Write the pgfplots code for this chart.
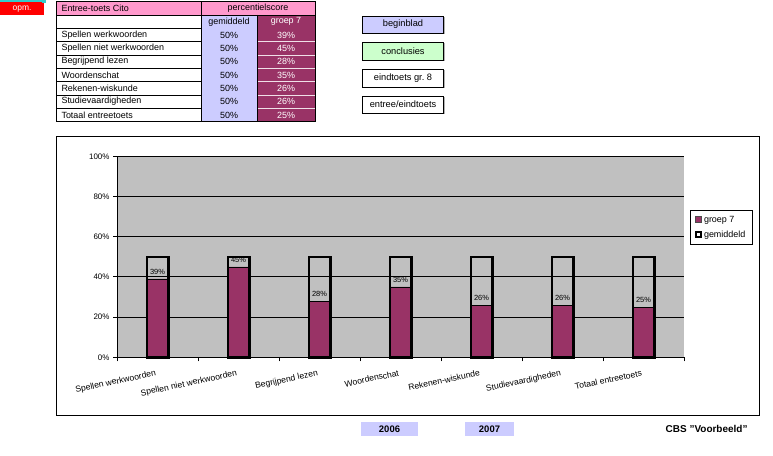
\documentclass[border=0pt]{standalone}
\usepackage{pgfplots}
\pgfplotsset{compat=1.18}
\usepackage{fontspec}
\setmainfont{Liberation Sans}
\definecolor{maroon}{HTML}{993366}
\definecolor{lav}{HTML}{CCCCFF}
\definecolor{pinkh}{HTML}{FF99CC}
\definecolor{mint}{HTML}{CCFFCC}
\definecolor{plotgray}{HTML}{C0C0C0}
\definecolor{tealx}{HTML}{33CCCC}
\newcommand{\fs}[1]{\fontsize{#1}{#1}\selectfont}
\newcommand{\btn}[4]{%
  \fill[gray!60] (364,456-#2-1.2) rectangle (444.5,456-#1-1.2);
  \draw[black,fill=#3,line width=0.7bp] (362.7,456-#2) rectangle (443.3,456-#1);
  \node[font=\fs{9.3}] at (403,456-#1/2-#2/2) {#4};}
\begin{document}
\begin{tikzpicture}[x=1bp,y=1bp]
\path[use as bounding box] (0,0) rectangle (773,456);
% opm. box
\fill[red] (0,456-15) rectangle (44,456-2);
\draw[tealx, line width=1.5bp] (0,456-1) -- (44,456-1);
\fill[tealx] (42,456-3.5) rectangle (46,456-0);
\node[white,font=\fs{8.5}] at (22,456-8.8) {opm.};
% table fills
\fill[pinkh] (56,456-15) rectangle (315,456-1.5);
\fill[lav] (201,456-121.67) rectangle (257,456-15);
\fill[maroon] (257,456-121.67) rectangle (315,456-15);
% table lines
\foreach \r in {28.33,41.67,55,68.33,81.67,95,108.33} {
  \draw[black,line width=0.6bp] (56,456-\r) -- (201,456-\r);
}
\foreach \r in {41.67,55,68.33,81.67,95,108.33} {
  \draw[white!85!maroon,line width=0.6bp] (257,456-\r) -- (315,456-\r);
}
\draw[black,line width=0.6bp] (56,456-15) -- (315,456-15);
\draw[black,line width=0.6bp] (201,456-1.5) -- (201,456-121.67);
\draw[black,line width=0.6bp] (257,456-15) -- (257,456-121.67);
\draw[black,line width=0.9bp] (56,456-1.5) rectangle (315,456-121.67);
% table text
\node[anchor=west,font=\fs{9}] at (58,456-8.3) {Entree-toets Cito};
\node[font=\fs{9}] at (258,456-8.3) {percentielscore};
\node[font=\fs{9}] at (229,456-21.7) {gemiddeld};
\node[font=\fs{9},white] at (286,456-21.7) {groep 7};
\foreach \n/\v [count=\i from 0] in {Spellen werkwoorden/39, Spellen niet werkwoorden/45, Begrijpend lezen/28, Woordenschat/35, Rekenen-wiskunde/26, Studievaardigheden/26, Totaal entreetoets/25} {
  \node[anchor=west,font=\fs{9}] at (58,456-35-13.333*\i) {\n};
  \node[font=\fs{9}] at (229,456-35-13.333*\i) {50\%};
  \node[font=\fs{9},white] at (286,456-35-13.333*\i) {\v\%};
}
% buttons
\btn{16}{33}{lav}{beginblad}
\btn{42}{60}{mint}{conclusies}
\btn{69}{87}{white}{eindtoets gr.\ 8}
\btn{96}{113}{white}{entree/eindtoets}
% bottom labels
\fill[lav] (361,456-436) rectangle (418,456-422);
\node[font=\fs{9.5}\bfseries] at (389.5,456-429) {2006};
\fill[lav] (465,456-436) rectangle (514,456-422);
\node[font=\fs{9.5}\bfseries] at (489.5,456-429) {2007};
\node[anchor=east,font=\fs{10}\bfseries] at (751,456-429) {CBS "Voorbeeld"};
% chart frame
\draw[black,fill=white,line width=0.8bp] (56,456-415) rectangle (759,456-136);
\coordinate (axO) at (117,98.7);
\begin{axis}[
  at={(axO)}, anchor=south west,
  scale only axis, width=567bp, height=201bp,
  xmin=-0.5, xmax=6.5, ymin=0, ymax=100,
  axis background/.style={fill=plotgray},
  axis x line=bottom, axis y line=left,
  axis line style={-, black, line width=0.8bp},
  ytick={0,20,40,60,80,100},
  yticklabel={\pgfmathprintnumber{\tick}\%},
  ymajorgrids, grid style={black, line width=0.8bp},
  xtick={-0.5,0.5,1.5,2.5,3.5,4.5,5.5,6.5}, xticklabels={},
  tick align=outside, major tick length=4bp,
  tick style={black, line width=0.8bp},
  extra x ticks={0,1,2,3,4,5,6},
  extra x tick labels={Spellen werkwoorden, Spellen niet werkwoorden, Begrijpend lezen, Woordenschat, Rekenen-wiskunde, Studievaardigheden, Totaal entreetoets},
  extra x tick style={major tick length=0pt, tick label style={rotate=12, anchor=north east, yshift=-8bp, xshift=-1.5bp, font=\fs{8.6}}},
  yticklabel style={font=\fs{8}},
  /pgf/number format/assume math mode=true,
  ybar, bar width=21.5bp, bar shift=0pt,
  legend style={at={(1.0106,0.646)}, anchor=west, draw=black, line width=0.8bp, font=\fs{9}, inner xsep=5bp, inner ysep=3bp, row sep=3.5bp, cells={anchor=west}},
  clip=false,
]
\addplot[fill=maroon, draw=black, line width=0.6bp,
  nodes near coords={\pgfmathprintnumber{\pgfplotspointmeta}\%},
  nodes near coords style={font=\fs{7.5}, black, yshift=1bp},
  legend image code/.code={\draw[fill=maroon,draw=black!70,line width=0.5bp] (0bp,-2.5bp) rectangle (5.5bp,3bp);}]
  coordinates {(0,39) (1,45) (2,28) (3,35) (4,26) (5,26) (6,25)};
\addlegendentry{groep 7}
\addplot[fill=none, draw=black, line width=2.5bp,
  legend image code/.code={\draw[fill=white,draw=black,line width=1.6bp] (0.5bp,-2bp) rectangle (5.5bp,3bp);}]
  coordinates {(0,50) (1,50) (2,50) (3,50) (4,50) (5,50) (6,50)};
\addlegendentry{gemiddeld}
\end{axis}
\end{tikzpicture}
\end{document}
